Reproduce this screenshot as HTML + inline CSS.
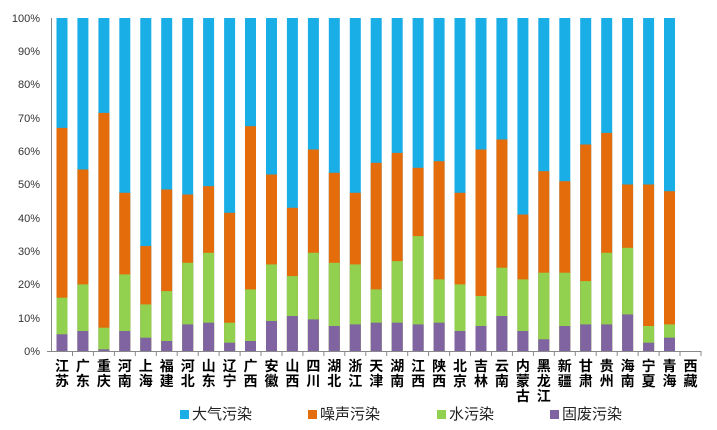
<!DOCTYPE html>
<html><head><meta charset="utf-8"><style>
html,body{margin:0;padding:0;background:#fff;}
svg{display:block;font-family:"Liberation Sans","Noto Sans CJK SC",sans-serif;}
.b{fill:#1AAEE6}.o{fill:#E46C0A}.g{fill:#92D050}.p{fill:#8064A2}
</style></head><body>
<svg width="717" height="430" viewBox="0 0 717 430" xmlns="http://www.w3.org/2000/svg">
<g font-size="11" fill="#333" text-anchor="end">
<text x="40" y="355">0%</text><text x="40" y="322">10%</text><text x="40" y="288">20%</text><text x="40" y="255">30%</text><text x="40" y="222">40%</text><text x="40" y="188">50%</text><text x="40" y="155">60%</text><text x="40" y="122">70%</text><text x="40" y="88">80%</text><text x="40" y="55">90%</text><text x="40" y="22">100%</text>
</g>
<g transform="translate(0,351) scale(1,-1)">
<g transform="translate(56.5,0)"><rect class="b" width="11" height="333"/><rect class="o" width="11" height="223.1"/><rect class="g" width="11" height="53.3"/><rect class="p" width="11" height="16.7"/></g>
<g transform="translate(77.4,0)"><rect class="b" width="11" height="333"/><rect class="o" width="11" height="181.5"/><rect class="g" width="11" height="66.6"/><rect class="p" width="11" height="20"/></g>
<g transform="translate(98.4,0)"><rect class="b" width="11" height="333"/><rect class="o" width="11" height="238.1"/><rect class="g" width="11" height="23.3"/><rect class="p" width="11" height="1.7"/></g>
<g transform="translate(119.3,0)"><rect class="b" width="11" height="333"/><rect class="o" width="11" height="158.2"/><rect class="g" width="11" height="76.6"/><rect class="p" width="11" height="20"/></g>
<g transform="translate(140.3,0)"><rect class="b" width="11" height="333"/><rect class="o" width="11" height="104.9"/><rect class="g" width="11" height="46.6"/><rect class="p" width="11" height="13.3"/></g>
<g transform="translate(161.2,0)"><rect class="b" width="11" height="333"/><rect class="o" width="11" height="161.5"/><rect class="g" width="11" height="59.9"/><rect class="p" width="11" height="10"/></g>
<g transform="translate(182.2,0)"><rect class="b" width="11" height="333"/><rect class="o" width="11" height="156.5"/><rect class="g" width="11" height="88.2"/><rect class="p" width="11" height="26.6"/></g>
<g transform="translate(203.1,0)"><rect class="b" width="11" height="333"/><rect class="o" width="11" height="164.8"/><rect class="g" width="11" height="98.2"/><rect class="p" width="11" height="28.3"/></g>
<g transform="translate(224.1,0)"><rect class="b" width="11" height="333"/><rect class="o" width="11" height="138.2"/><rect class="g" width="11" height="28.3"/><rect class="p" width="11" height="8.3"/></g>
<g transform="translate(245.0,0)"><rect class="b" width="11" height="333"/><rect class="o" width="11" height="224.8"/><rect class="g" width="11" height="61.6"/><rect class="p" width="11" height="10"/></g>
<g transform="translate(266.0,0)"><rect class="b" width="11" height="333"/><rect class="o" width="11" height="176.5"/><rect class="g" width="11" height="86.6"/><rect class="p" width="11" height="30"/></g>
<g transform="translate(286.9,0)"><rect class="b" width="11" height="333"/><rect class="o" width="11" height="143.2"/><rect class="g" width="11" height="74.9"/><rect class="p" width="11" height="35"/></g>
<g transform="translate(307.9,0)"><rect class="b" width="11" height="333"/><rect class="o" width="11" height="201.5"/><rect class="g" width="11" height="98.2"/><rect class="p" width="11" height="31.6"/></g>
<g transform="translate(328.8,0)"><rect class="b" width="11" height="333"/><rect class="o" width="11" height="178.2"/><rect class="g" width="11" height="88.2"/><rect class="p" width="11" height="25"/></g>
<g transform="translate(349.8,0)"><rect class="b" width="11" height="333"/><rect class="o" width="11" height="158.2"/><rect class="g" width="11" height="86.6"/><rect class="p" width="11" height="26.6"/></g>
<g transform="translate(370.7,0)"><rect class="b" width="11" height="333"/><rect class="o" width="11" height="188.2"/><rect class="g" width="11" height="61.6"/><rect class="p" width="11" height="28.3"/></g>
<g transform="translate(391.7,0)"><rect class="b" width="11" height="333"/><rect class="o" width="11" height="198.1"/><rect class="g" width="11" height="89.9"/><rect class="p" width="11" height="28.3"/></g>
<g transform="translate(412.6,0)"><rect class="b" width="11" height="333"/><rect class="o" width="11" height="183.2"/><rect class="g" width="11" height="114.9"/><rect class="p" width="11" height="26.6"/></g>
<g transform="translate(433.6,0)"><rect class="b" width="11" height="333"/><rect class="o" width="11" height="189.8"/><rect class="g" width="11" height="71.6"/><rect class="p" width="11" height="28.3"/></g>
<g transform="translate(454.5,0)"><rect class="b" width="11" height="333"/><rect class="o" width="11" height="158.2"/><rect class="g" width="11" height="66.6"/><rect class="p" width="11" height="20"/></g>
<g transform="translate(475.5,0)"><rect class="b" width="11" height="333"/><rect class="o" width="11" height="201.5"/><rect class="g" width="11" height="55"/><rect class="p" width="11" height="25"/></g>
<g transform="translate(496.4,0)"><rect class="b" width="11" height="333"/><rect class="o" width="11" height="211.5"/><rect class="g" width="11" height="83.3"/><rect class="p" width="11" height="35"/></g>
<g transform="translate(517.4,0)"><rect class="b" width="11" height="333"/><rect class="o" width="11" height="136.5"/><rect class="g" width="11" height="71.6"/><rect class="p" width="11" height="20"/></g>
<g transform="translate(538.3,0)"><rect class="b" width="11" height="333"/><rect class="o" width="11" height="179.8"/><rect class="g" width="11" height="78.3"/><rect class="p" width="11" height="11.7"/></g>
<g transform="translate(559.3,0)"><rect class="b" width="11" height="333"/><rect class="o" width="11" height="169.8"/><rect class="g" width="11" height="78.3"/><rect class="p" width="11" height="25"/></g>
<g transform="translate(580.2,0)"><rect class="b" width="11" height="333"/><rect class="o" width="11" height="206.5"/><rect class="g" width="11" height="69.9"/><rect class="p" width="11" height="26.6"/></g>
<g transform="translate(601.2,0)"><rect class="b" width="11" height="333"/><rect class="o" width="11" height="218.1"/><rect class="g" width="11" height="98.2"/><rect class="p" width="11" height="26.6"/></g>
<g transform="translate(622.1,0)"><rect class="b" width="11" height="333"/><rect class="o" width="11" height="166.5"/><rect class="g" width="11" height="103.2"/><rect class="p" width="11" height="36.6"/></g>
<g transform="translate(643.1,0)"><rect class="b" width="11" height="333"/><rect class="o" width="11" height="166.5"/><rect class="g" width="11" height="25"/><rect class="p" width="11" height="8.3"/></g>
<g transform="translate(664.0,0)"><rect class="b" width="11" height="333"/><rect class="o" width="11" height="159.8"/><rect class="g" width="11" height="26.6"/><rect class="p" width="11" height="13.3"/></g>
</g>
<g stroke="#888" stroke-width="1">
<line x1="51.5" y1="18" x2="51.5" y2="351"/>
<line x1="47" y1="351.5" x2="701" y2="351.5"/>
<line x1="72.5" y1="351" x2="72.5" y2="356"/><line x1="93.4" y1="351" x2="93.4" y2="356"/><line x1="114.4" y1="351" x2="114.4" y2="356"/><line x1="135.3" y1="351" x2="135.3" y2="356"/><line x1="156.3" y1="351" x2="156.3" y2="356"/><line x1="177.2" y1="351" x2="177.2" y2="356"/><line x1="198.2" y1="351" x2="198.2" y2="356"/><line x1="219.1" y1="351" x2="219.1" y2="356"/><line x1="240.1" y1="351" x2="240.1" y2="356"/><line x1="261" y1="351" x2="261" y2="356"/><line x1="282" y1="351" x2="282" y2="356"/><line x1="302.9" y1="351" x2="302.9" y2="356"/><line x1="323.9" y1="351" x2="323.9" y2="356"/><line x1="344.8" y1="351" x2="344.8" y2="356"/><line x1="365.8" y1="351" x2="365.8" y2="356"/><line x1="386.7" y1="351" x2="386.7" y2="356"/><line x1="407.7" y1="351" x2="407.7" y2="356"/><line x1="428.6" y1="351" x2="428.6" y2="356"/><line x1="449.6" y1="351" x2="449.6" y2="356"/><line x1="470.5" y1="351" x2="470.5" y2="356"/><line x1="491.5" y1="351" x2="491.5" y2="356"/><line x1="512.4" y1="351" x2="512.4" y2="356"/><line x1="533.4" y1="351" x2="533.4" y2="356"/><line x1="554.3" y1="351" x2="554.3" y2="356"/><line x1="575.3" y1="351" x2="575.3" y2="356"/><line x1="596.2" y1="351" x2="596.2" y2="356"/><line x1="617.2" y1="351" x2="617.2" y2="356"/><line x1="638.1" y1="351" x2="638.1" y2="356"/><line x1="659.1" y1="351" x2="659.1" y2="356"/><line x1="680" y1="351" x2="680" y2="356"/><line x1="701" y1="351" x2="701" y2="356"/>
</g>
<g font-size="14" font-weight="bold" fill="#000" text-anchor="middle">
<text x="62" y="371">江</text><text x="62" y="386">苏</text>
<text x="82.9" y="371">广</text><text x="82.9" y="386">东</text>
<text x="103.9" y="371">重</text><text x="103.9" y="386">庆</text>
<text x="124.8" y="371">河</text><text x="124.8" y="386">南</text>
<text x="145.8" y="371">上</text><text x="145.8" y="386">海</text>
<text x="166.7" y="371">福</text><text x="166.7" y="386">建</text>
<text x="187.7" y="371">河</text><text x="187.7" y="386">北</text>
<text x="208.6" y="371">山</text><text x="208.6" y="386">东</text>
<text x="229.6" y="371">辽</text><text x="229.6" y="386">宁</text>
<text x="250.5" y="371">广</text><text x="250.5" y="386">西</text>
<text x="271.5" y="371">安</text><text x="271.5" y="386">徽</text>
<text x="292.4" y="371">山</text><text x="292.4" y="386">西</text>
<text x="313.4" y="371">四</text><text x="313.4" y="386">川</text>
<text x="334.3" y="371">湖</text><text x="334.3" y="386">北</text>
<text x="355.3" y="371">浙</text><text x="355.3" y="386">江</text>
<text x="376.2" y="371">天</text><text x="376.2" y="386">津</text>
<text x="397.2" y="371">湖</text><text x="397.2" y="386">南</text>
<text x="418.1" y="371">江</text><text x="418.1" y="386">西</text>
<text x="439.1" y="371">陕</text><text x="439.1" y="386">西</text>
<text x="460" y="371">北</text><text x="460" y="386">京</text>
<text x="481" y="371">吉</text><text x="481" y="386">林</text>
<text x="501.9" y="371">云</text><text x="501.9" y="386">南</text>
<text x="522.9" y="371">内</text><text x="522.9" y="386">蒙</text><text x="522.9" y="401">古</text>
<text x="543.8" y="371">黑</text><text x="543.8" y="386">龙</text><text x="543.8" y="401">江</text>
<text x="564.8" y="371">新</text><text x="564.8" y="386">疆</text>
<text x="585.7" y="371">甘</text><text x="585.7" y="386">肃</text>
<text x="606.7" y="371">贵</text><text x="606.7" y="386">州</text>
<text x="627.6" y="371">海</text><text x="627.6" y="386">南</text>
<text x="648.6" y="371">宁</text><text x="648.6" y="386">夏</text>
<text x="669.5" y="371">青</text><text x="669.5" y="386">海</text>
<text x="690.5" y="371">西</text><text x="690.5" y="386">藏</text>
</g>
<g font-size="15" fill="#222">
<rect x="180" y="410" width="9" height="9" fill="#1AAEE6"/><text x="192" y="419">大气污染</text>
<rect x="308" y="410" width="9" height="9" fill="#E46C0A"/><text x="320" y="419">噪声污染</text>
<rect x="437" y="410" width="9" height="9" fill="#92D050"/><text x="449" y="419">水污染</text>
<rect x="550" y="410" width="9" height="9" fill="#8064A2"/><text x="562" y="419">固废污染</text>
</g>
</svg>
</body></html>
